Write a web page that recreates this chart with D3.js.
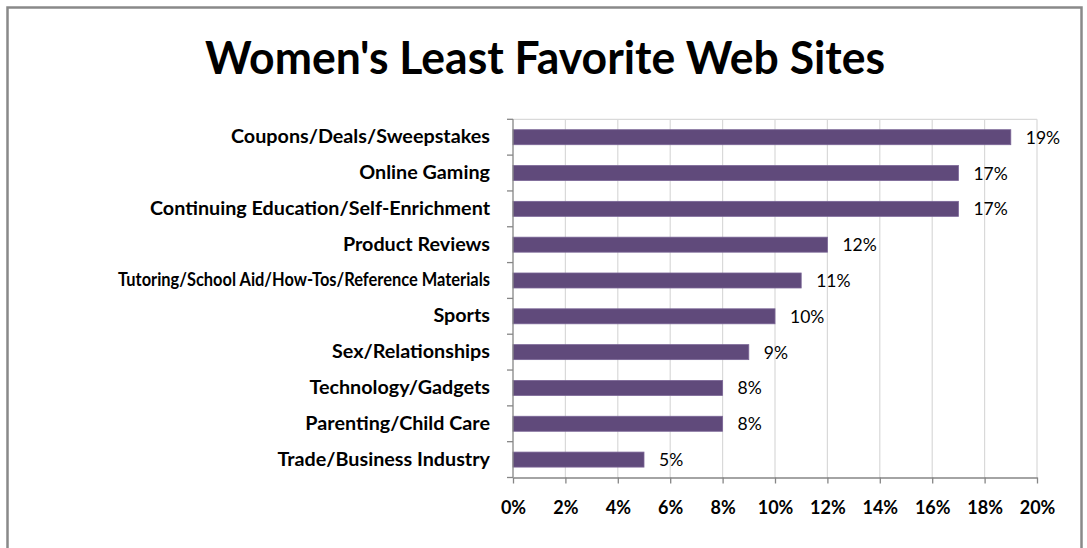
<!DOCTYPE html>
<html><head><meta charset="utf-8">
<script src="https://cdn.jsdelivr.net/npm/d3@7"></script>
<style>body{margin:0;background:#fff;}svg{display:block;}</style>
</head><body>
<svg id="c" width="1087" height="548"></svg>
<script>
const categories = ["Coupons/Deals/Sweepstakes","Online Gaming","Continuing Education/Self-Enrichment","Product Reviews","Tutoring/School Aid/How-Tos/Reference Materials","Sports","Sex/Relationships","Technology/Gadgets","Parenting/Child Care","Trade/Business Industry"];
const values = [19,17,17,12,11,10,9,8,8,5];
const xTicks = [0,2,4,6,8,10,12,14,16,18,20];
const titleText = "Women's Least Favorite Web Sites";

const svg = d3.select("#c");
const m = {left:513, right:1037, top:119.3, bottom:477.5};
const FONT = "Lato, 'Open Sans', sans-serif";

// frame
svg.append("rect").attr("x",7.5).attr("y",7.5).attr("width",1074).attr("height",560)
  .attr("fill","#fff").attr("stroke","#898989").attr("stroke-width",2.5);

// title
const title = svg.append("text").attr("x",545).attr("y",74).attr("text-anchor","middle")
  .attr("font-family",FONT).attr("font-weight","bold").attr("font-size",46)
  .attr("fill","#000").text(titleText);
title.attr("textLength",680).attr("lengthAdjust","spacingAndGlyphs");

const x = d3.scaleLinear().domain([0,20]).range([m.left,m.right]);
const y = d3.scaleBand().domain(categories).range([m.top,m.bottom]).paddingInner(0).paddingOuter(0);
const barH = 15;

// gridlines
svg.append("g").selectAll("line").data(xTicks.slice(1)).join("line")
  .attr("x1",d=>x(d)).attr("x2",d=>x(d)).attr("y1",m.top).attr("y2",m.bottom)
  .attr("stroke","#d9d9d9").attr("stroke-width",1.2);
svg.append("line").attr("x1",m.left).attr("x2",m.right).attr("y1",m.top).attr("y2",m.top)
  .attr("stroke","#d9d9d9").attr("stroke-width",1.2);

// bars
svg.append("g").selectAll("rect").data(values).join("rect")
  .attr("x",x(0)).attr("y",(d,i)=>y(categories[i])+y.bandwidth()/2-barH/2)
  .attr("width",d=>x(d)-x(0)).attr("height",barH)
  .attr("fill","#604a7b").attr("stroke","#7a6596").attr("stroke-width",0.8);

// value labels
svg.append("g").selectAll("text").data(values).join("text")
  .attr("x",d=>x(d)+15).attr("y",(d,i)=>y(categories[i])+y.bandwidth()/2+6.5)
  .attr("font-family",FONT).attr("font-size",17.5).attr("fill","#000")
  .text(d=>d+"%");

// y axis
const yAxis = svg.append("g").attr("transform",`translate(${m.left},0)`);
yAxis.append("line").attr("x1",0).attr("x2",0).attr("y1",m.top).attr("y2",m.bottom)
  .attr("stroke","#868686").attr("stroke-width",1.3);
const bounds = categories.map(c=>y(c)).concat([m.bottom]);
yAxis.selectAll("line.t").data(bounds).join("line").attr("class","t")
  .attr("x1",-6).attr("x2",0).attr("y1",d=>d).attr("y2",d=>d)
  .attr("stroke","#868686").attr("stroke-width",1.3);

// category labels
const catTexts = svg.append("g").selectAll("text").data(categories).join("text")
  .attr("x",490).attr("y",c=>y(c)+y.bandwidth()/2+6).attr("text-anchor","end")
  .attr("font-family",FONT).attr("font-weight","bold").attr("font-size",18)
  .attr("fill","#000").text(c=>c);
// horizontal stretch so that typical labels match the reference width, longest label squeezed to fit
let refW = 0;
catTexts.filter((c,i)=>i===2).each(function(){ refW = this.getComputedTextLength(); });
const sx = 340/refW;
catTexts.each(function(){
  const w=this.getComputedTextLength()*sx;
  d3.select(this).attr("textLength",Math.min(w,372)).attr("lengthAdjust","spacingAndGlyphs");
});

// x axis
const xAxis = d3.axisBottom(x).tickValues(xTicks).tickFormat(d=>d+"%").tickSize(6).tickSizeOuter(0);
const gx = svg.append("g").attr("transform",`translate(0,${m.bottom})`).call(xAxis);
gx.select(".domain").attr("stroke","#868686").attr("stroke-width",1.3);
gx.selectAll(".tick line").attr("stroke","#868686").attr("stroke-width",1.3);
gx.selectAll(".tick text").attr("y",31).attr("dy","0.32em")
  .attr("font-family",FONT).attr("font-weight","bold").attr("font-size",18).attr("fill","#000");
</script>
</body></html>
